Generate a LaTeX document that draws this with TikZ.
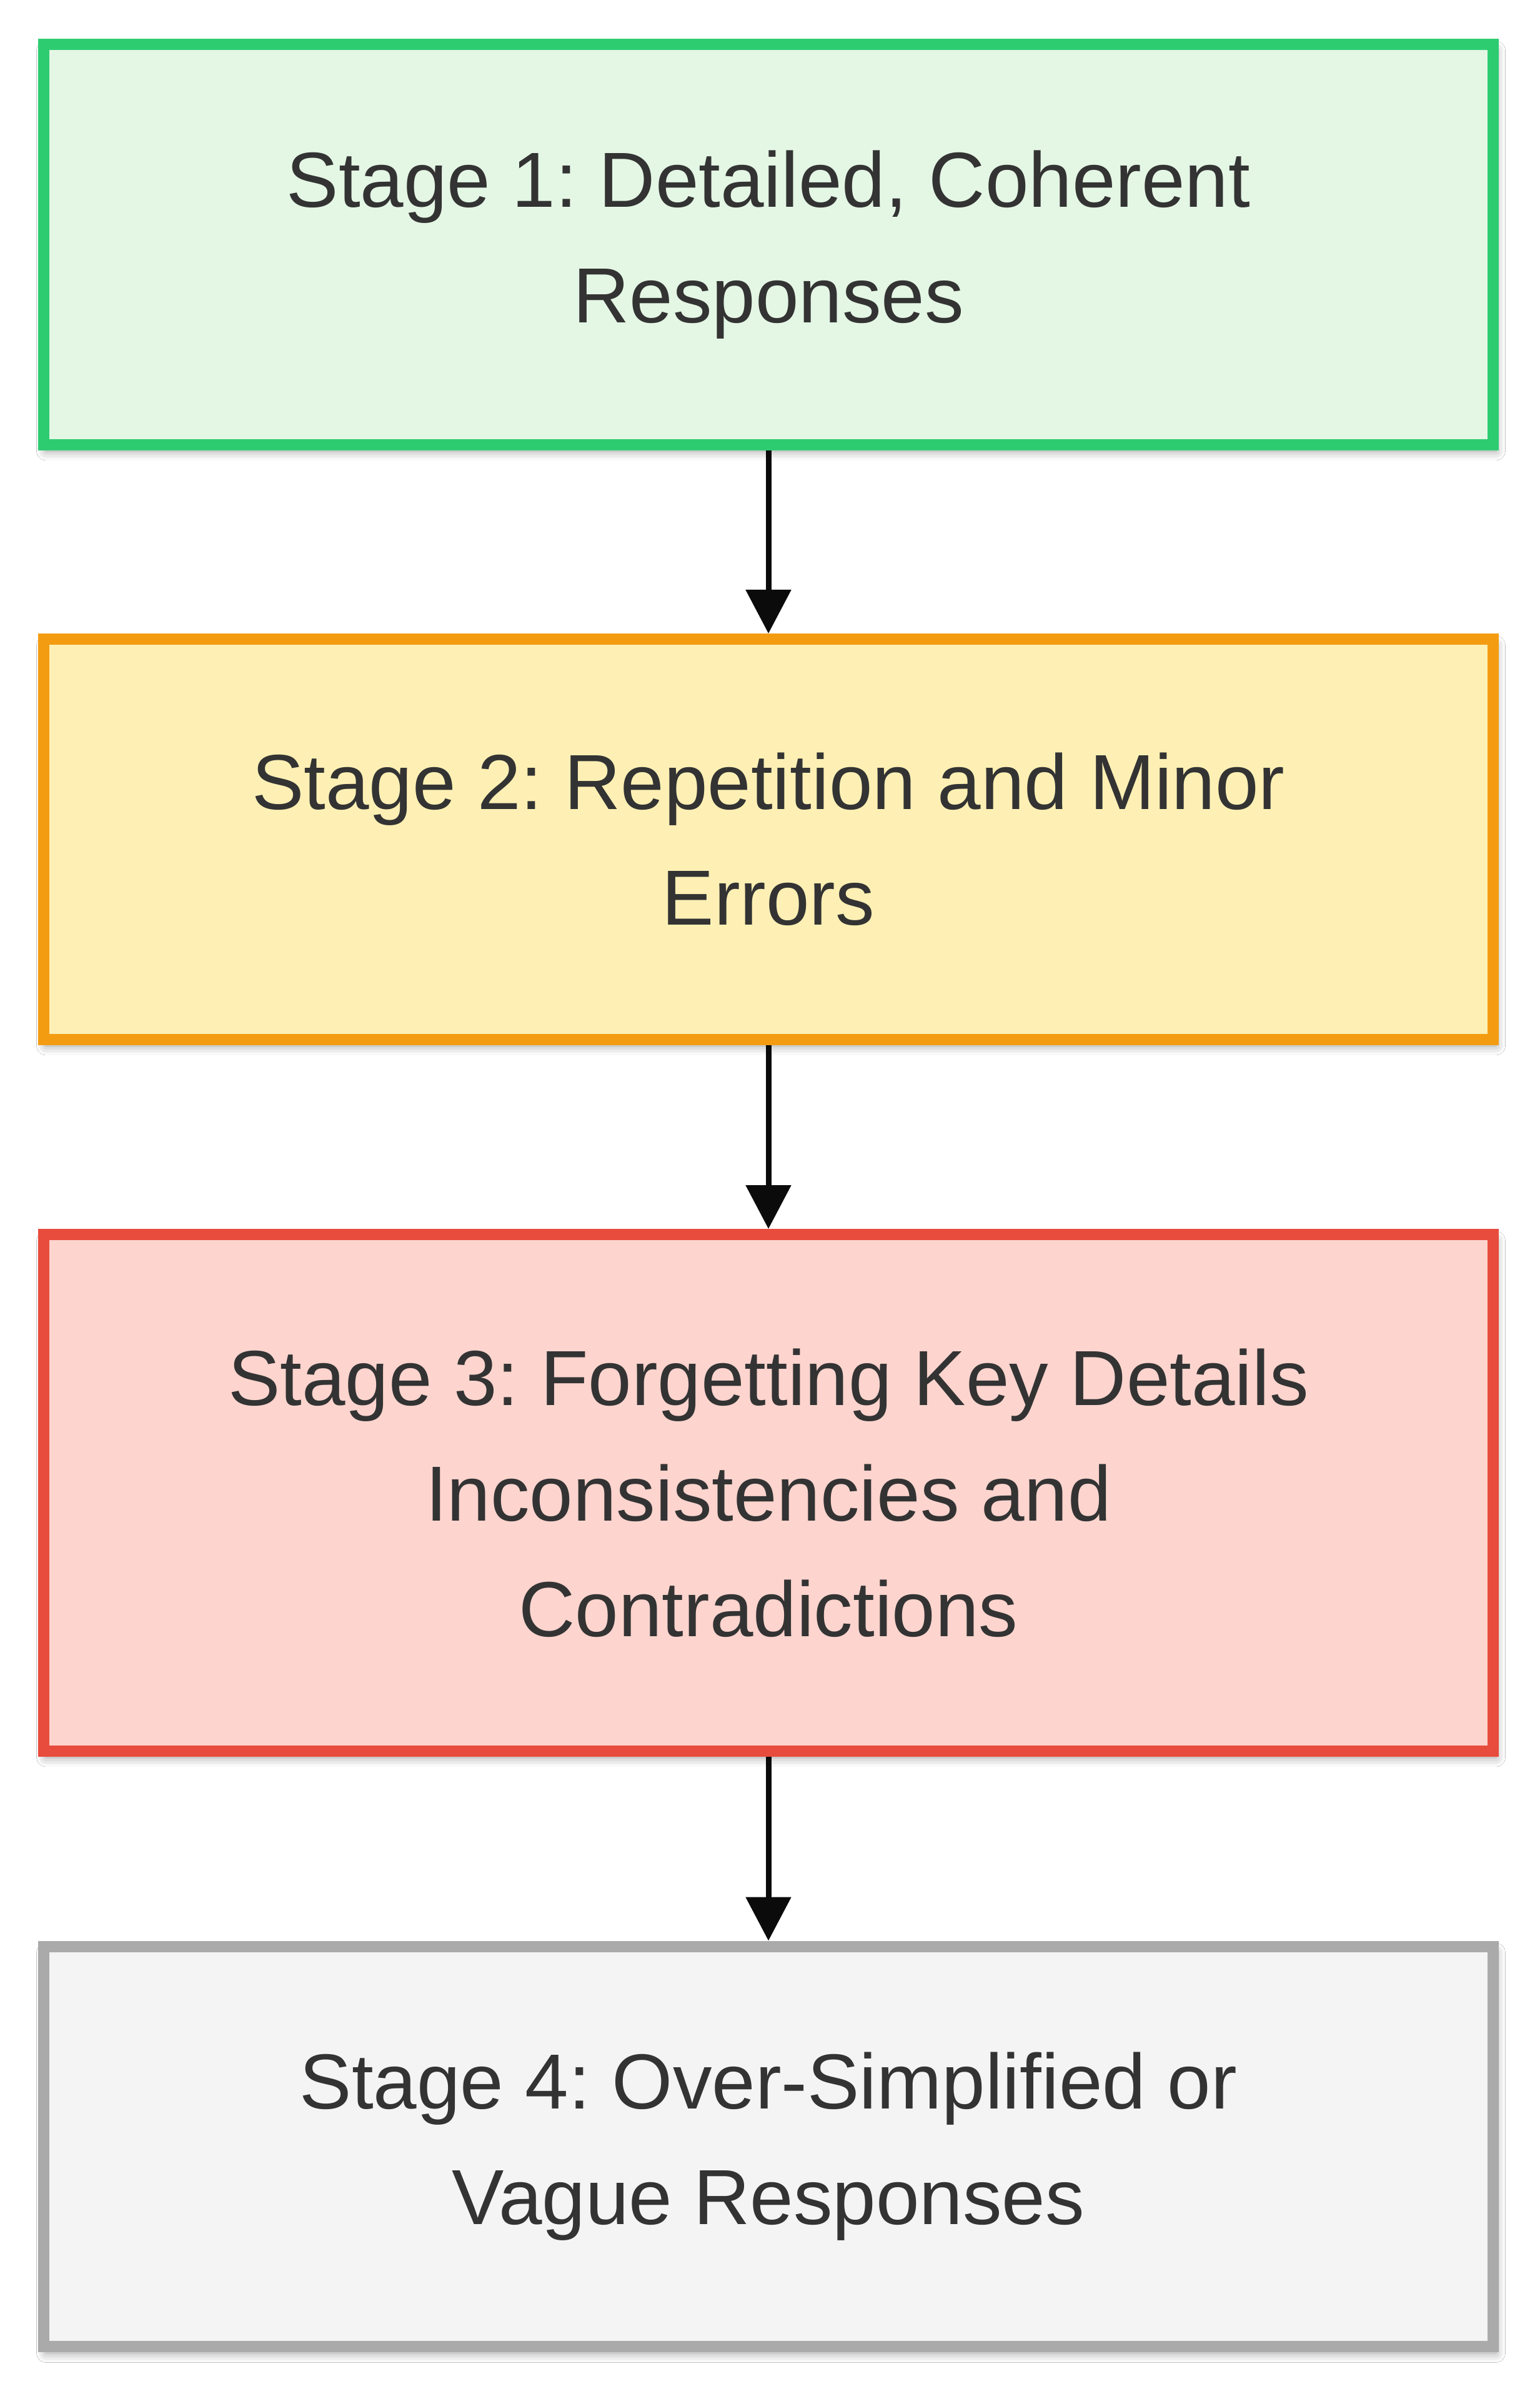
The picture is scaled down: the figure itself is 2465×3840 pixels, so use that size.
\documentclass[tikz,border=0pt]{standalone}
\usepackage{fontspec}
\setmainfont{Liberation Sans}
\frenchspacing
\usetikzlibrary{arrows.meta,shadows.blur}
\definecolor{txtgray}{HTML}{333333}
\definecolor{greenline}{HTML}{2ECC71}
\definecolor{greenfill}{HTML}{E4F6E4}
\definecolor{orangeline}{HTML}{F39C12}
\definecolor{orangefill}{HTML}{FEF0B4}
\definecolor{redline}{HTML}{E74C3C}
\definecolor{redfill}{HTML}{FDD4CE}
\definecolor{grayline}{HTML}{AAAAAA}
\definecolor{grayfill}{HTML}{F4F4F4}
\definecolor{arrowblack}{HTML}{0B0B0B}
\tikzset{
  stage/.style={rectangle,draw,line width=1.8pt,minimum width=232.1pt,minimum height=64.1pt,
    align=center,text=txtgray,font=\fontsize{12.5pt}{18.5pt}\selectfont,
    blur shadow={shadow xshift=0.4pt,shadow yshift=-1pt,shadow blur radius=1.5pt,shadow opacity=40}},
  flow/.style={-{Triangle[width=7.1pt,length=7pt]},line width=0.9pt,draw=arrowblack}
}
\begin{document}
\begin{tikzpicture}[x=0.1pt,y=0.1pt]
  \useasboundingbox[fill=white] (0,0) rectangle (2465,3840);
  % draw stage 1 box
  \node at(1230,3448.5)[stage,draw=greenline,fill=greenfill](stageone){Stage 1: Detailed, Coherent\\Responses};
  % draw stage 2 box
  \node at(1230,2496.5)[stage,draw=orangeline,fill=orangefill](stagetwo){Stage 2: Repetition and Minor\\Errors};
  % draw stage 3 box
  \node at(1230,1450.5)[stage,draw=redline,fill=redfill,minimum height=82.7pt](stagethree){Stage 3: Forgetting Key Details\\Inconsistencies and\\Contradictions};
  % draw stage 4 box
  \node at(1230,404)[stage,draw=grayline,fill=grayfill](stagefour){Stage 4: Over-Simplified or\\Vague Responses};
  % draw arrows between the stages
  \draw [flow](stageone) -- (stagetwo);
  \draw [flow](stagetwo) -- (stagethree);
  \draw [flow](stagethree) -- (stagefour);
\end{tikzpicture}
\end{document}
